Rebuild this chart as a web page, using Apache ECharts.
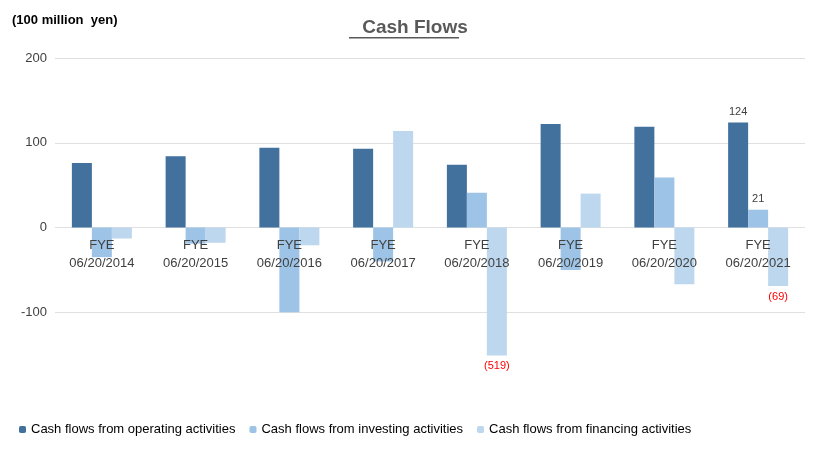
<!DOCTYPE html>
<html>
<head>
<meta charset="utf-8">
<script src="https://cdn.jsdelivr.net/npm/echarts@6/dist/echarts.min.js"></script>
<style>html,body{margin:0;background:#fff}#main{width:830px;height:465px}</style>
</head>
<body>
<div id="main"></div>
<script>
var categories = ['FYE\n06/20/2014', 'FYE\n06/20/2015', 'FYE\n06/20/2016', 'FYE\n06/20/2017',
    'FYE\n06/20/2018', 'FYE\n06/20/2019', 'FYE\n06/20/2020', 'FYE\n06/20/2021'];
var operating = [76, 84, 94, 93, 74, 122, 119, 124];
var investing = [-35, -19, -100, -40, 41, -50, 59, 21];
// 2018 financing is -519, drawn with a broken (shortened) bar
var financing = [-13, -18, -21, 114, -151, 40, -67, -69];
var financingActual = [-13, -18, -21, 114, -519, 40, -67, -69];

var myChart = echarts.init(document.getElementById('main'));

function lbl(pos, color, text) {
    return { show: true, position: pos, color: color, fontSize: 11, formatter: text };
}

var opData = operating.map(function (v, i) {
    return i == 7 ? { value: v, label: lbl('top', '#404040', String(v)) } : v;
});
var invData = investing.map(function (v, i) {
    return i == 7 ? { value: v, label: lbl('top', '#404040', String(v)) } : v;
});
var finData = financing.map(function (v, i) {
    if (i == 4 || i == 7) {
        return { value: v, label: lbl('bottom', '#ff0000', '(' + (-financingActual[i]) + ')') };
    }
    return v;
});

option = {
    title: {
        text: 'Cash Flows',
        left: 'center',
        top: 13,
        textStyle: { fontSize: 19, fontWeight: 'bold', color: '#595959', fontFamily: 'Liberation Sans' }
    },
    graphic: [
        { type: 'rect', left: 349, top: 37, shape: { width: 110, height: 1.5 }, style: { fill: '#595959' } },
        { type: 'text', left: 12, top: 14, style: { text: '(100 million  yen)', fontSize: 13, fontWeight: 'bold', fill: '#000', fontFamily: 'Liberation Sans' } }
    ],
    legend: {
        bottom: 24,
        left: 14,
        itemWidth: 7,
        itemHeight: 7,
        itemGap: 14,
        textStyle: { fontSize: 13, color: '#000', fontFamily: 'Liberation Sans' },
        data: ['Cash flows from operating activities', 'Cash flows from investing activities', 'Cash flows from financing activities']
    },
    grid: { left: 55, right: 25, top: 58, bottom: 68 },
    xAxis: {
        type: 'category',
        data: categories,
        axisLine: { show: false },
        axisTick: { show: false },
        z: 10,
        axisLabel: { color: '#404040', fontSize: 13, margin: -161, lineHeight: 18, fontFamily: 'Liberation Sans' }
    },
    yAxis: {
        type: 'value',
        min: -200,
        max: 200,
        interval: 100,
        axisLine: { show: false },
        axisTick: { show: false },
        axisLabel: {
            color: '#404040', fontSize: 13, fontFamily: 'Liberation Sans',
            formatter: function (v) { return v == -200 ? '' : v; }
        },
        splitLine: {
            lineStyle: { color: '#e0e0e0' },
            showMinLine: false
        }
    },
    series: [
        { name: 'Cash flows from operating activities', type: 'bar', data: opData, barWidth: 20, barGap: '0%', itemStyle: { color: '#41719c' } },
        { name: 'Cash flows from investing activities', type: 'bar', data: invData, barWidth: 20, itemStyle: { color: '#9dc3e6' } },
        { name: 'Cash flows from financing activities', type: 'bar', data: finData, barWidth: 20, itemStyle: { color: '#bdd7ee' } }
    ]
};

myChart.setOption(option);
</script>
</body>
</html>
